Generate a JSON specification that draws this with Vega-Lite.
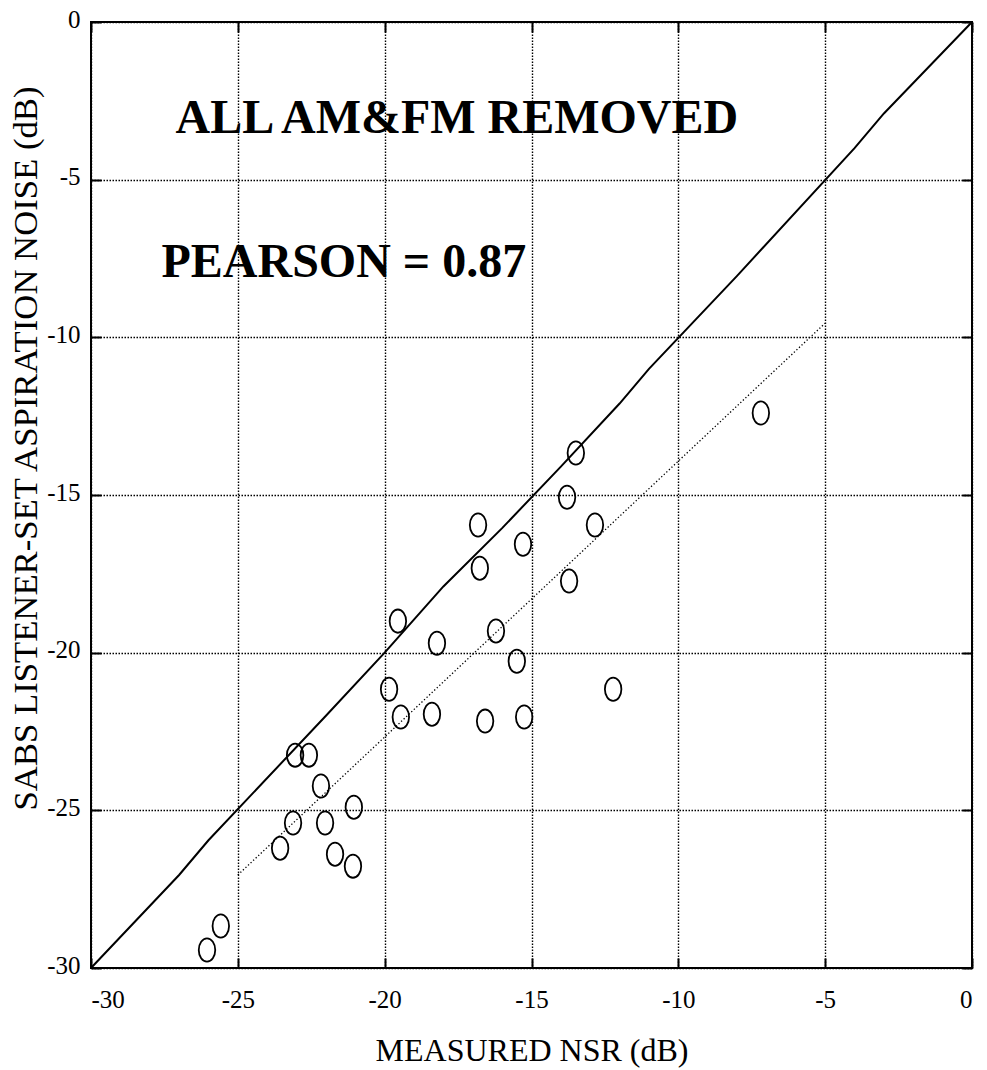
{
  "$schema": "https://vega.github.io/schema/vega-lite/v6.json",
  "width": 881,
  "height": 946,
  "autosize": "none",
  "padding": {"left": 91, "top": 22, "right": 15, "bottom": 102},
  "background": "white",
  "config": {
    "view": {"stroke": "black", "strokeWidth": 2},
    "font": "Liberation Serif",
    "axis": {
      "domain": false,
      "grid": true,
      "gridColor": "black",
      "gridDash": [1.5, 1.5],
      "gridWidth": 1.4,
      "gridOpacity": 1,
      "ticks": true,
      "tickColor": "black",
      "tickSize": -10,
      "tickWidth": 2,
      "labelFont": "Liberation Serif",
      "labelFontSize": 25,
      "labelColor": "black",
      "labelExpr": "datum.value == 0 ? '0' : '-' + abs(datum.value)",
      "titleFont": "Liberation Serif",
      "titleFontWeight": "normal",
      "titleColor": "black"
    }
  },
  "datasets": {
    "points": [
      {"nsr": -7.19, "noise": -12.40},
      {"nsr": -13.49, "noise": -13.67},
      {"nsr": -13.79, "noise": -15.07},
      {"nsr": -12.84, "noise": -15.95},
      {"nsr": -16.82, "noise": -15.95},
      {"nsr": -15.29, "noise": -16.56},
      {"nsr": -16.76, "noise": -17.32},
      {"nsr": -13.72, "noise": -17.73},
      {"nsr": -19.55, "noise": -19.00},
      {"nsr": -18.22, "noise": -19.70},
      {"nsr": -16.21, "noise": -19.31},
      {"nsr": -15.50, "noise": -20.27},
      {"nsr": -12.22, "noise": -21.16},
      {"nsr": -19.85, "noise": -21.16},
      {"nsr": -19.45, "noise": -22.04},
      {"nsr": -18.39, "noise": -21.95},
      {"nsr": -16.58, "noise": -22.17},
      {"nsr": -15.25, "noise": -22.04},
      {"nsr": -23.05, "noise": -23.25},
      {"nsr": -22.58, "noise": -23.25},
      {"nsr": -22.17, "noise": -24.23},
      {"nsr": -21.05, "noise": -24.90},
      {"nsr": -23.12, "noise": -25.40},
      {"nsr": -22.03, "noise": -25.40},
      {"nsr": -23.56, "noise": -26.20},
      {"nsr": -21.69, "noise": -26.39},
      {"nsr": -21.08, "noise": -26.77},
      {"nsr": -25.58, "noise": -28.67},
      {"nsr": -26.05, "noise": -29.43}
    ],
    "identity": [
      {"nsr": -30, "noise": -30},
      {"nsr": -27, "noise": -27.05},
      {"nsr": -26, "noise": -25.95},
      {"nsr": -22, "noise": -22},
      {"nsr": -20, "noise": -20},
      {"nsr": -18, "noise": -17.9},
      {"nsr": -16, "noise": -16.05},
      {"nsr": -14, "noise": -14.1},
      {"nsr": -12, "noise": -12.1},
      {"nsr": -11, "noise": -11},
      {"nsr": -8, "noise": -8.05},
      {"nsr": -4, "noise": -4},
      {"nsr": -3, "noise": -2.9},
      {"nsr": 0, "noise": 0}
    ],
    "fit": [
      {"nsr": -25, "noise": -27.05},
      {"nsr": -5, "noise": -9.55}
    ]
  },
  "resolve": {"axis": {"x": "independent", "y": "independent"}},
  "layer": [
    {
      "data": {"name": "points"},
      "mark": {
        "type": "point",
        "shape": "M -0.71 0 A 0.71 1 0 1 0 0.71 0 A 0.71 1 0 1 0 -0.71 0 Z",
        "size": 540,
        "filled": false,
        "stroke": "black",
        "strokeWidth": 1.8,
        "opacity": 1
      },
      "encoding": {
        "x": {
          "field": "nsr", "type": "quantitative",
          "scale": {"domain": [-30, 0], "nice": false, "zero": false},
          "axis": {
            "orient": "bottom",
            "values": [-30, -25, -20, -15, -10, -5, 0],
            "labelPadding": 29,
            "labelBaseline": "top",
            "title": "MEASURED NSR (dB)",
            "titleFontSize": 32,
            "titleBaseline": "alphabetic",
            "titleY": 92,
            "titleAnchor": "middle"
          }
        },
        "y": {
          "field": "noise", "type": "quantitative",
          "scale": {"domain": [-30, 0], "nice": false, "zero": false},
          "axis": {
            "orient": "left",
            "values": [-30, -25, -20, -15, -10, -5, 0],
            "labelPadding": 21,
            "labelOffset": -3,
            "title": "SABS LISTENER-SET ASPIRATION NOISE (dB)",
            "titleFontSize": 34.7,
            "titleBaseline": "alphabetic",
            "titleAngle": -90,
            "titleAlign": "center",
            "titleX": -55,
            "titleY": 426
          }
        }
      }
    },
    {
      "data": {"name": "identity"},
      "mark": {"type": "line", "color": "black", "strokeWidth": 2},
      "encoding": {
        "x": {
          "field": "nsr", "type": "quantitative",
          "axis": {"orient": "top", "values": [-30, -25, -20, -15, -10, -5, 0], "labels": false, "grid": false, "title": null}
        },
        "y": {
          "field": "noise", "type": "quantitative",
          "axis": {"orient": "right", "values": [-30, -25, -20, -15, -10, -5, 0], "labels": false, "grid": false, "title": null}
        }
      }
    },
    {
      "data": {"name": "fit"},
      "mark": {"type": "line", "color": "black", "strokeWidth": 1.3, "strokeDash": [1.3, 2.2]},
      "encoding": {
        "x": {"field": "nsr", "type": "quantitative", "axis": null},
        "y": {"field": "noise", "type": "quantitative", "axis": null}
      }
    },
    {
      "data": {"values": [{"label": "ALL AM&FM REMOVED"}]},
      "mark": {"type": "text", "font": "Liberation Serif", "fontWeight": "bold", "fontSize": 48, "align": "left", "baseline": "alphabetic", "color": "black"},
      "encoding": {
        "x": {"datum": -27.12, "type": "quantitative", "axis": null},
        "y": {"datum": -3.52, "type": "quantitative", "axis": null},
        "text": {"field": "label"}
      }
    },
    {
      "data": {"values": [{"label": "PEARSON = 0.87"}]},
      "mark": {"type": "text", "font": "Liberation Serif", "fontWeight": "bold", "fontSize": 48, "align": "left", "baseline": "alphabetic", "color": "black"},
      "encoding": {
        "x": {"datum": -27.6, "type": "quantitative", "axis": null},
        "y": {"datum": -8.09, "type": "quantitative", "axis": null},
        "text": {"field": "label"}
      }
    }
  ]
}
